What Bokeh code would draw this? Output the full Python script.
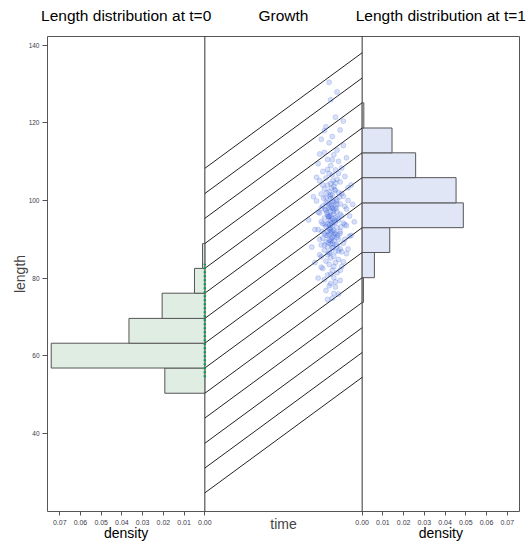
from bokeh.plotting import figure
from bokeh.models import Range1d, FixedTicker, CustomJSTickFormatter, LinearAxis, Span
from bokeh.embed import file_html
from bokeh.resources import INLINE

# ---------------- data ----------------
length_ticks = [40, 60, 80, 100, 120, 140]
density_ticks = [0.00, 0.01, 0.02, 0.03, 0.04, 0.05, 0.06, 0.07]
panel_titles = ["Length distribution at t=0", "Growth", "Length distribution at t=1"]
x_titles = ["density", "density"]
time_title = "time"

# growth lines: length at t=0 -> length at t=1
line_len_t0 = [24.6, 31.0, 37.4, 43.9, 50.3, 56.8, 63.2, 69.6, 76.1, 82.5, 88.9, 95.4, 101.8, 108.3]
line_len_t1 = [54.4, 60.8, 67.2, 73.7, 80.1, 86.6, 93.0, 99.4, 105.9, 112.3, 118.7, 125.2, 131.6, 138.1]

# histogram at t=0
hist0_edges = [50.3, 56.8, 63.2, 69.6, 76.1, 82.5, 88.9]
hist0_density = [0.0193, 0.0741, 0.0366, 0.0206, 0.0050, 0.0011]

# histogram at t=1
hist1_edges = [73.7, 80.1, 86.6, 93.0, 99.4, 105.9, 112.3, 118.7, 125.2]
hist1_density = [0.0006, 0.0059, 0.0133, 0.0488, 0.0453, 0.0258, 0.0144, 0.0008]

# observed lengths at t=0 (rug along time 0)
rug0_min, rug0_max = 54.4, 83.7

# observed (time, length) points at t=1
growth_points = [
    (0.80, 126.0), (0.83, 121.5), (0.77, 119.0), (0.86, 118.2), (0.81, 116.5), (0.74, 115.8), (0.79, 114.9), (0.88, 114.2), (0.84, 113.0), (0.76, 112.4),
    (0.82, 111.8), (0.90, 111.0), (0.78, 110.6), (0.85, 110.1), (0.72, 109.5), (0.80, 109.0), (0.87, 108.4), (0.83, 107.9), (0.75, 107.5), (0.79, 107.0),
    (0.81, 106.6), (0.89, 106.2), (0.77, 105.8), (0.84, 105.5), (0.73, 105.1), (0.86, 104.8), (0.80, 104.4), (0.78, 104.0), (0.82, 103.7), (0.91, 103.3),
    (0.76, 103.0), (0.83, 102.6), (0.79, 102.3), (0.85, 102.0), (0.74, 101.7), (0.81, 101.4), (0.88, 101.1), (0.77, 100.8), (0.80, 100.5), (0.84, 100.2),
    (0.71, 99.9), (0.82, 99.6), (0.78, 99.4), (0.86, 99.1), (0.79, 98.8), (0.75, 98.6), (0.83, 98.3), (0.81, 98.0), (0.90, 97.8), (0.77, 97.5),
    (0.80, 97.3), (0.84, 97.0), (0.73, 96.8), (0.82, 96.5), (0.78, 96.3), (0.87, 96.0), (0.79, 95.8), (0.76, 95.5), (0.81, 95.3), (0.85, 95.0),
    (0.80, 94.8), (0.74, 94.5), (0.83, 94.3), (0.78, 94.0), (0.89, 93.8), (0.81, 93.5), (0.77, 93.3), (0.84, 93.0), (0.79, 92.8), (0.72, 92.5),
    (0.82, 92.3), (0.86, 92.0), (0.80, 91.8), (0.76, 91.5), (0.83, 91.3), (0.78, 91.0), (0.92, 90.8), (0.81, 90.5), (0.75, 90.3), (0.85, 90.0),
    (0.79, 89.8), (0.82, 89.5), (0.77, 89.3), (0.88, 89.0), (0.80, 88.8), (0.74, 88.5), (0.84, 88.3), (0.78, 88.0), (0.81, 87.8), (0.86, 87.5),
    (0.76, 87.2), (0.83, 86.9), (0.79, 86.6), (0.90, 86.3), (0.73, 86.0), (0.82, 85.6), (0.80, 85.2), (0.85, 84.8), (0.77, 84.4), (0.83, 84.0),
    (0.79, 83.5), (0.87, 83.0), (0.75, 82.5), (0.81, 82.0), (0.84, 81.4), (0.78, 80.8), (0.82, 80.1), (0.86, 79.4), (0.80, 78.6), (0.83, 77.7),
    (0.77, 76.8), (0.85, 75.9), (0.81, 74.8),
    (0.795, 101.0), (0.815, 97.2), (0.805, 94.1), (0.825, 91.6), (0.785, 89.1), (0.775, 96.9), (0.835, 99.8), (0.765, 93.9), (0.845, 95.4), (0.805, 103.2),
    (0.815, 87.9), (0.795, 92.4), (0.825, 102.8), (0.785, 98.1), (0.755, 100.6), (0.865, 93.2), (0.805, 90.2), (0.835, 88.7), (0.775, 102.0), (0.815, 105.1),
    (0.795, 86.4), (0.845, 91.1), (0.765, 97.7), (0.825, 94.9), (0.805, 99.0), (0.785, 95.9), (0.855, 100.9), (0.745, 92.0), (0.835, 97.9), (0.795, 93.6),
    (0.66, 95.0), (0.68, 88.0), (0.69, 101.0), (0.70, 92.5), (0.70, 84.0), (0.71, 106.0), (0.72, 97.0), (0.72, 80.0), (0.73, 90.0), (0.73, 112.0),
    (0.74, 98.0), (0.74, 85.5), (0.75, 94.0), (0.75, 104.0), (0.76, 88.5), (0.76, 118.0), (0.77, 91.0), (0.77, 99.5), (0.78, 86.0), (0.78, 108.0),
    (0.79, 96.0), (0.79, 78.0), (0.80, 101.5), (0.80, 93.0), (0.81, 89.0), (0.81, 110.5), (0.82, 97.8), (0.82, 83.0), (0.83, 95.6), (0.83, 104.5),
    (0.84, 90.5), (0.84, 99.0), (0.85, 87.0), (0.85, 107.0), (0.86, 96.5), (0.86, 91.5), (0.87, 101.8), (0.87, 86.8), (0.88, 94.2), (0.88, 120.5),
    (0.89, 98.5), (0.89, 90.0), (0.90, 93.5), (0.91, 100.0), (0.91, 87.5), (0.92, 96.0), (0.93, 104.0), (0.93, 91.0), (0.94, 99.0), (0.95, 94.5),
    (0.79, 130.5), (0.84, 128.0), (0.82, 76.0), (0.78, 74.5), (0.86, 82.0), (0.74, 82.8), (0.80, 81.0), (0.83, 79.0), (0.76, 79.6), (0.88, 84.2),
    (0.81, 92.0), (0.79, 94.9), (0.80, 96.1), (0.82, 90.8), (0.78, 92.1), (0.81, 99.7), (0.80, 98.4), (0.79, 91.3), (0.82, 94.4), (0.80, 89.6),
]

# ---------------- layout helpers (panel coordinate mapping) ----------------
W = 0.0759  # width of one panel, in density units


def left_panel(d):
    return -d


def mid_panel(t):
    return t * W


def right_panel(d):
    return W + d


FONT = "Liberation Sans"
OUTLINE = "#555555"
TICK_COLOR = "#3d3a4a"

p = figure(width=529, height=544,
           x_range=Range1d(-W, 2 * W), y_range=Range1d(19.8, 142.3),
           output_backend="svg", toolbar_location=None,
           min_border_left=47, min_border_right=10,
           min_border_top=36, min_border_bottom=33)

p.grid.visible = False
p.outline_line_color = OUTLINE
p.outline_line_width = 1
p.background_fill_color = "white"
p.border_fill_color = "white"


def bare_axis(ax):
    ax.axis_line_color = None
    ax.major_tick_in = 0
    ax.minor_tick_out = 0
    ax.minor_tick_in = 0


# y axis
p.yaxis.ticker = FixedTicker(ticks=length_ticks)
bare_axis(p.yaxis[0])
p.yaxis.major_tick_out = 5
p.yaxis.major_tick_line_color = OUTLINE
p.yaxis.major_label_text_font = FONT
p.yaxis.major_label_text_font_size = "6.5px"
p.yaxis.major_label_text_color = TICK_COLOR
p.yaxis.major_label_standoff = 3
p.yaxis.axis_label = "length"
p.yaxis.axis_label_text_font = FONT
p.yaxis.axis_label_text_font_size = "14px"
p.yaxis.axis_label_text_font_style = "normal"
p.yaxis.axis_label_standoff = -2

# x axis (two density scales) + "time" label
xtick_pos = [left_panel(d) for d in density_ticks] + [right_panel(d) for d in density_ticks]
xa = p.xaxis[0]
xa.ticker = FixedTicker(ticks=xtick_pos)
xa.formatter = CustomJSTickFormatter(args=dict(W=W), code="""
    const v = tick < W / 2 ? -tick : tick - W;
    return Math.abs(v).toFixed(2);
""")
bare_axis(xa)
xa.major_tick_out = 4
xa.major_tick_line_color = OUTLINE
xa.major_label_text_font = FONT
xa.major_label_text_font_size = "7px"
xa.major_label_text_color = TICK_COLOR
xa.major_label_standoff = 4
xa.axis_label = time_title
xa.axis_label_text_font = FONT
xa.axis_label_text_font_size = "14px"
xa.axis_label_text_font_style = "normal"
xa.axis_label_standoff = -12

# "density" titles under the two histogram panels
dens_axis = LinearAxis(ticker=FixedTicker(ticks=[left_panel(W / 2), right_panel(W / 2)]),
                       formatter=CustomJSTickFormatter(args=dict(labels=x_titles),
                                                       code="return labels[index];"))
bare_axis(dens_axis)
dens_axis.major_tick_out = 0
dens_axis.major_label_text_font = FONT
dens_axis.major_label_text_font_size = "14px"
dens_axis.major_label_text_color = "black"
dens_axis.major_label_standoff = -10
p.add_layout(dens_axis, "below")

# panel titles above the three panels
title_axis = LinearAxis(ticker=FixedTicker(ticks=[left_panel(W / 2), mid_panel(0.5), right_panel(W / 2)]),
                        formatter=CustomJSTickFormatter(args=dict(labels=panel_titles),
                                                        code="return labels[index];"))
bare_axis(title_axis)
title_axis.major_tick_out = 0
title_axis.major_label_text_font = FONT
title_axis.major_label_text_font_size = "15.5px"
title_axis.major_label_text_color = "black"
title_axis.major_label_standoff = 13
p.add_layout(title_axis, "above")

# panel separators (under the glyphs)
for loc in (left_panel(0), right_panel(0)):
    p.add_layout(Span(location=loc, dimension="height", line_color="#333333", line_width=1, level="underlay"))

# histogram t=0 (left panel, density grows to the left)
p.quad(left=[left_panel(d) for d in hist0_density], right=[left_panel(0)] * len(hist0_density),
       bottom=hist0_edges[:-1], top=hist0_edges[1:],
       fill_color="#dfede3", line_color=OUTLINE, line_width=1)

# histogram t=1 (right panel)
p.quad(left=[right_panel(0)] * len(hist1_density), right=[right_panel(d) for d in hist1_density],
       bottom=hist1_edges[:-1], top=hist1_edges[1:],
       fill_color="#e1e6f7", line_color=OUTLINE, line_width=1)

# growth lines
p.segment(x0=[mid_panel(0)] * len(line_len_t0), y0=line_len_t0,
          x1=[mid_panel(1)] * len(line_len_t1), y1=line_len_t1,
          line_color="#222222", line_width=1)

# observed points at t=1
p.scatter(x=[mid_panel(t) for t, _ in growth_points], y=[l for _, l in growth_points],
          size=5, fill_color="#3a63dc", fill_alpha=0.2,
          line_color="#3a63dc", line_alpha=0.25, line_width=0.8)

# observed lengths at t=0
p.segment(x0=[mid_panel(0)], y0=[rug0_min], x1=[mid_panel(0)], y1=[rug0_max],
          line_color="#1a9a50", line_width=2.5, line_dash="2 2")

open("out.html", "w").write(file_html(p, INLINE))
